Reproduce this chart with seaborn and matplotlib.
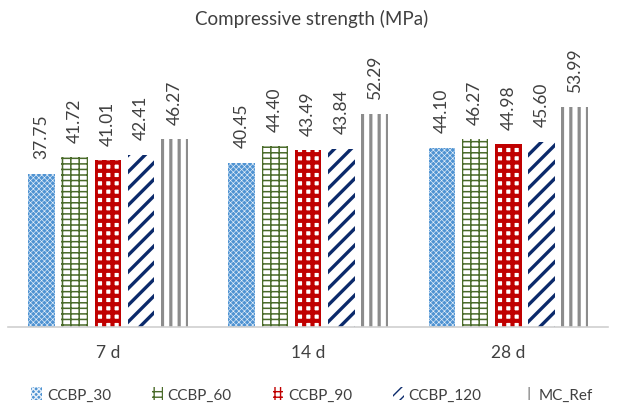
import matplotlib
matplotlib.use("Agg")
import matplotlib.pyplot as plt
import matplotlib.patches as mpatches
import seaborn as sns
import pandas as pd

ages = ["7 d", "14 d", "28 d"]
mixes = ["CCBP_30", "CCBP_60", "CCBP_90", "CCBP_120", "MC_Ref"]
ccbp_30 = [37.75, 40.45, 44.10]
ccbp_60 = [41.72, 44.40, 46.27]
ccbp_90 = [41.01, 43.49, 44.98]
ccbp_120 = [42.41, 43.84, 45.60]
mc_ref = [46.27, 52.29, 53.99]

series = [ccbp_30, ccbp_60, ccbp_90, ccbp_120, mc_ref]
df = pd.DataFrame(
    [(a, m, v) for m, vals in zip(mixes, series) for a, v in zip(ages, vals)],
    columns=["age", "mix", "strength"],
)

# pattern fill per mix: (face, hatch colour, hatch, hatch linewidth)
styles = {
    "CCBP_30": ("#4f93d2", "#e8f1fa", "xxxxxx", 0.45),
    "CCBP_60": ("#ffffff", "#4a6b2a", "++-", 1.1),
    "CCBP_90": ("#ffffff", "#c00000", "++", 3.0),
    "CCBP_120": ("#ffffff", "#0b2a6b", "//", 2.4),
    "MC_Ref": ("#ffffff", "#8c8c8c", "||", 2.3),
}

sns.set_style("white")
plt.rcParams["font.family"] = ["Lato", "DejaVu Sans"]

fig = plt.figure(figsize=(6.24, 4.10), dpi=100)
ax = fig.add_axes([0.0125, 0.2, 0.9625, 0.595])

sns.barplot(data=df, x="age", y="strength", hue="mix", order=ages,
            hue_order=mixes, width=0.83, gap=0.2, legend=False, ax=ax,
            errorbar=None)

for container, mix in zip(ax.containers, mixes):
    face, hcol, hatch, hlw = styles[mix]
    for bar in container:
        bar.set_facecolor(face)
        bar.set_edgecolor(hcol)
        bar.set_linewidth(0)
        bar.set_hatch(hatch)
        if hasattr(bar, "set_hatch_linewidth"):
            bar.set_hatch_linewidth(hlw)
    ax.bar_label(container, labels=[f"{v:.2f}" for v in container.datavalues],
                 rotation=90, padding=11, fontsize=12.5, color="#404040")

ax.set_ylim(0, 60)
ax.set_xlim(-0.5, 2.5)
ax.set_xlabel("")
ax.set_ylabel("")
ax.set_yticks([])
for side in ["left", "right", "top"]:
    ax.spines[side].set_visible(False)
ax.spines["bottom"].set_color("#d0d0d0")
ax.spines["bottom"].set_linewidth(1.2)
ax.tick_params(axis="x", length=0, labelsize=12.5, labelcolor="#404040", pad=12)

fig.suptitle("Compressive strength (MPa)", y=0.975, fontsize=13.5, color="#404040")

legend_hatch = {"CCBP_30": "xxxxxx", "CCBP_60": "++-", "CCBP_90": "+++",
                "CCBP_120": "///", "MC_Ref": "||"}
handles = []
for mix in mixes:
    face, hcol, hatch, hlw = styles[mix]
    p = mpatches.Patch(facecolor=face, edgecolor=hcol, hatch=legend_hatch[mix],
                       linewidth=0, label=mix)
    if hasattr(p, "set_hatch_linewidth"):
        p.set_hatch_linewidth(min(hlw, 1.6))
    handles.append(p)
fig.legend(handles=handles, loc="center", bbox_to_anchor=(0.5, 0.035), ncol=5,
           frameon=False, fontsize=11, handlelength=0.7, handleheight=0.9,
           handletextpad=0.3, columnspacing=2.7, labelcolor="#404040")

fig.savefig("out.png", dpi=100)
